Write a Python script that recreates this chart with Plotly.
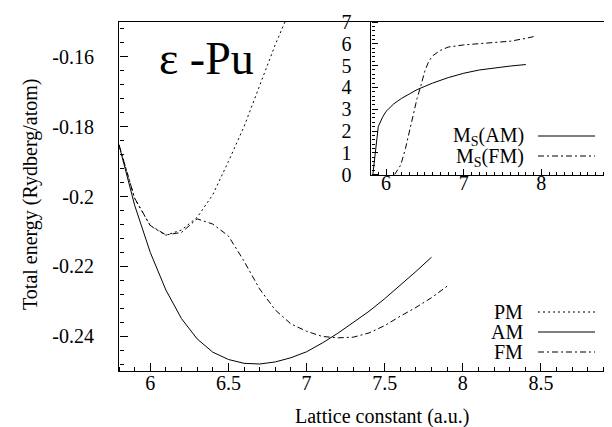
import plotly.graph_objects as go

# ---- main panel data (Total energy, Rydberg/atom) ----
pm_x = [5.8, 5.9, 6.0, 6.1, 6.2, 6.3, 6.4, 6.5, 6.6, 6.7, 6.8, 6.862]
pm_y = [-0.1852, -0.2005, -0.2084, -0.2111, -0.2096, -0.2060, -0.1995, -0.1900, -0.1800, -0.1685, -0.1565, -0.1500]

am_x = [5.8, 5.9, 6.0, 6.1, 6.2, 6.3, 6.4, 6.5, 6.6, 6.7, 6.8, 6.9, 7.0, 7.1, 7.2, 7.3, 7.4, 7.5, 7.6, 7.7, 7.8]
am_y = [-0.1852, -0.2025, -0.2160, -0.2268, -0.2350, -0.2408, -0.2446, -0.2467, -0.2478, -0.2480, -0.2474,
        -0.2462, -0.2445, -0.2420, -0.2392, -0.2361, -0.2329, -0.2293, -0.2255, -0.2215, -0.2174]

fm_x = [5.8, 5.9, 6.0, 6.1, 6.2, 6.3, 6.4, 6.5, 6.6, 6.7, 6.8, 6.9, 7.0, 7.1, 7.2, 7.3, 7.4, 7.5, 7.6, 7.7, 7.8, 7.9]
fm_y = [-0.1852, -0.2005, -0.2083, -0.2110, -0.2103, -0.2064, -0.2079, -0.2113, -0.2185, -0.2265, -0.2325,
        -0.2365, -0.2386, -0.2401, -0.2405, -0.2403, -0.2391, -0.2370, -0.2343, -0.2318, -0.2290, -0.2257]

# ---- inset data (spin moment) ----
ms_am_x = [5.83, 5.86, 5.9, 5.95, 6.0, 6.1, 6.2, 6.3, 6.4, 6.5, 6.6, 6.8, 7.0, 7.2, 7.4, 7.6, 7.8]
ms_am_y = [0.0, 1.0, 2.2, 2.6, 2.9, 3.25, 3.5, 3.7, 3.9, 4.05, 4.2, 4.45, 4.65, 4.8, 4.9, 4.98, 5.05]

ms_fm_x = [6.11, 6.19, 6.25, 6.3, 6.35, 6.4, 6.45, 6.5, 6.55, 6.6, 6.7, 6.8, 7.0, 7.2, 7.4, 7.6, 7.8, 7.9]
ms_fm_y = [0.0, 0.45, 1.2, 2.0, 2.8, 3.5, 4.1, 4.75, 5.2, 5.45, 5.7, 5.85, 5.95, 6.0, 6.06, 6.12, 6.25, 6.33]

# ---- tick labels ----
main_xticks = [6, 6.5, 7, 7.5, 8, 8.5, 9]
main_xlabels = ["6", "6.5", "7", "7.5", "8", "8.5", "9"]
main_yticks = [-0.24, -0.22, -0.2, -0.18, -0.16]
main_ylabels = ["-0.24", "-0.22", "-0.2", "-0.18", "-0.16"]
inset_xticks = [6, 7, 8, 9]
inset_xlabels = ["6", "7", "8", "9"]
inset_yticks = [0, 1, 2, 3, 4, 5, 6, 7]
inset_ylabels = ["0", "1", "2", "3", "4", "5", "6", "7"]

FONT = "Liberation Serif"
FM_DASH = "6px,3px,2px,3px"

fig = go.Figure()
fig.add_trace(go.Scatter(x=pm_x, y=pm_y, mode="lines", line=dict(color="black", width=1, dash="2px,3px"),
                         xaxis="x", yaxis="y", showlegend=False))
fig.add_trace(go.Scatter(x=am_x, y=am_y, mode="lines", line=dict(color="black", width=1),
                         xaxis="x", yaxis="y", showlegend=False))
fig.add_trace(go.Scatter(x=fm_x, y=fm_y, mode="lines", line=dict(color="black", width=1, dash=FM_DASH),
                         xaxis="x", yaxis="y", showlegend=False))
fig.add_trace(go.Scatter(x=ms_am_x, y=ms_am_y, mode="lines", line=dict(color="black", width=1),
                         xaxis="x2", yaxis="y2", showlegend=False))
fig.add_trace(go.Scatter(x=ms_fm_x, y=ms_fm_y, mode="lines", line=dict(color="black", width=1, dash=FM_DASH),
                         xaxis="x2", yaxis="y2", showlegend=False))
# empty traces so the tick-only overlay axes are drawn
fig.add_trace(go.Scatter(x=[], y=[], xaxis="x3", yaxis="y3", showlegend=False, hoverinfo="skip"))
fig.add_trace(go.Scatter(x=[], y=[], xaxis="x4", yaxis="y4", showlegend=False, hoverinfo="skip"))

L, R, T, B = 111, 1, 14, 64
W, H = 612, 427
pw = W - L - R
ph = H - T - B


def px(xp):
    return (xp - L) / pw


def py(yp):
    return (H - B - yp) / ph


inset_x0 = px(362.5)
inset_y0 = py(166.7)

axis_common = dict(showgrid=False, zeroline=False, showline=True, linecolor="black", linewidth=1,
                   ticks="", ticklabeloverflow="allow",
                   tickfont=dict(family=FONT, size=20, color="black"))
tick_common = dict(showgrid=False, zeroline=False, showline=False, showticklabels=False,
                   ticks="outside", tickcolor="#000000", tickwidth=1, anchor="free")

fig.update_layout(
    template="none",
    width=W, height=H,
    margin=dict(l=L, r=R, t=T, b=B),
    paper_bgcolor="white", plot_bgcolor="rgba(0,0,0,0)",
    font=dict(family=FONT, color="black"),
    xaxis=dict(**axis_common, domain=[0, 1], range=[5.8, 9], mirror=True,
               tickmode="array", tickvals=main_xticks, ticktext=main_xlabels,
               ticklabelstandoff=-6),
    yaxis=dict(**axis_common, domain=[0, 1], range=[-0.25, -0.15], mirror=True,
               tickmode="array", tickvals=main_yticks, ticktext=main_ylabels,
               ticklabelstandoff=20),
    xaxis2=dict(**axis_common, domain=[inset_x0, 1], range=[5.8, 9], anchor="y2", mirror=True,
                tickmode="array", tickvals=inset_xticks, ticktext=inset_xlabels,
                ticklabelstandoff=-10),
    yaxis2=dict(**axis_common, domain=[inset_y0, 1], range=[0, 7], anchor="x2", mirror=True,
                tickmode="array", tickvals=inset_yticks, ticktext=inset_ylabels,
                ticklabelstandoff=14),
    # tick-only axes: outward ticks from a mirrored side point into the plot
    xaxis3=dict(**tick_common, overlaying="x", side="top", position=0, range=[5.8, 9],
                tickmode="array", tickvals=main_xticks, ticklen=8,
                minor=dict(ticks="outside", ticklen=4, tickcolor="#000000", tickwidth=1,
                           dtick=0.1, tick0=0, showgrid=False)),
    yaxis3=dict(**tick_common, overlaying="y", side="right", position=0, range=[-0.25, -0.15],
                tickmode="array", tickvals=main_yticks, ticklen=8,
                minor=dict(ticks="outside", ticklen=4, tickcolor="#000000", tickwidth=1,
                           dtick=0.004, tick0=0, showgrid=False)),
    xaxis4=dict(**tick_common, overlaying="x2", side="top", position=inset_y0, range=[5.8, 9],
                tickmode="array", tickvals=inset_xticks, ticklen=6,
                minor=dict(ticks="outside", ticklen=3, tickcolor="#000000", tickwidth=1,
                           dtick=0.1, tick0=0, showgrid=False)),
    yaxis4=dict(**tick_common, overlaying="y2", side="right", position=inset_x0, range=[0, 7],
                tickmode="array", tickvals=inset_yticks, ticklen=6,
                minor=dict(ticks="outside", ticklen=3, tickcolor="#000000", tickwidth=1,
                           dtick=0.2, tick0=0, showgrid=False)),
)

annos = [
    dict(text="ε -Pu", x=px(198.5), y=py(50), size=46, xanchor="center"),
    dict(text="Lattice constant (a.u.)", x=px(373.7), y=py(408), size=20, xanchor="center"),
    dict(text="PM", x=px(517), y=py(304), size=20, xanchor="right"),
    dict(text="AM", x=px(517), y=py(324), size=20, xanchor="right"),
    dict(text="FM", x=px(517), y=py(344), size=20, xanchor="right"),
    dict(text="M<sub>S</sub>(AM)", x=px(518), y=py(128), size=20, xanchor="right"),
    dict(text="M<sub>S</sub>(FM)", x=px(518), y=py(149), size=20, xanchor="right"),
]
for a in annos:
    fig.add_annotation(text=a["text"], xref="paper", yref="paper", x=a["x"], y=a["y"],
                       xanchor=a["xanchor"], yanchor="middle", showarrow=False,
                       font=dict(family=FONT, size=a["size"], color="black"))

fig.add_annotation(text="Total energy (Rydberg/atom)", xref="paper", yref="paper",
                   x=px(22), y=py(187), textangle=-90, showarrow=False,
                   xanchor="center", yanchor="middle",
                   font=dict(family=FONT, size=20, color="black"))

# legend line samples
samples = [(304, "2px,3px"), (324, "solid"), (344, FM_DASH), (128, "solid"), (148, FM_DASH)]
for yp, dash in samples:
    fig.add_shape(type="line", xref="paper", yref="paper", x0=px(530), x1=px(587), y0=py(yp), y1=py(yp),
                  line=dict(color="black", width=1, dash=dash))

fig.write_html("out.html")
